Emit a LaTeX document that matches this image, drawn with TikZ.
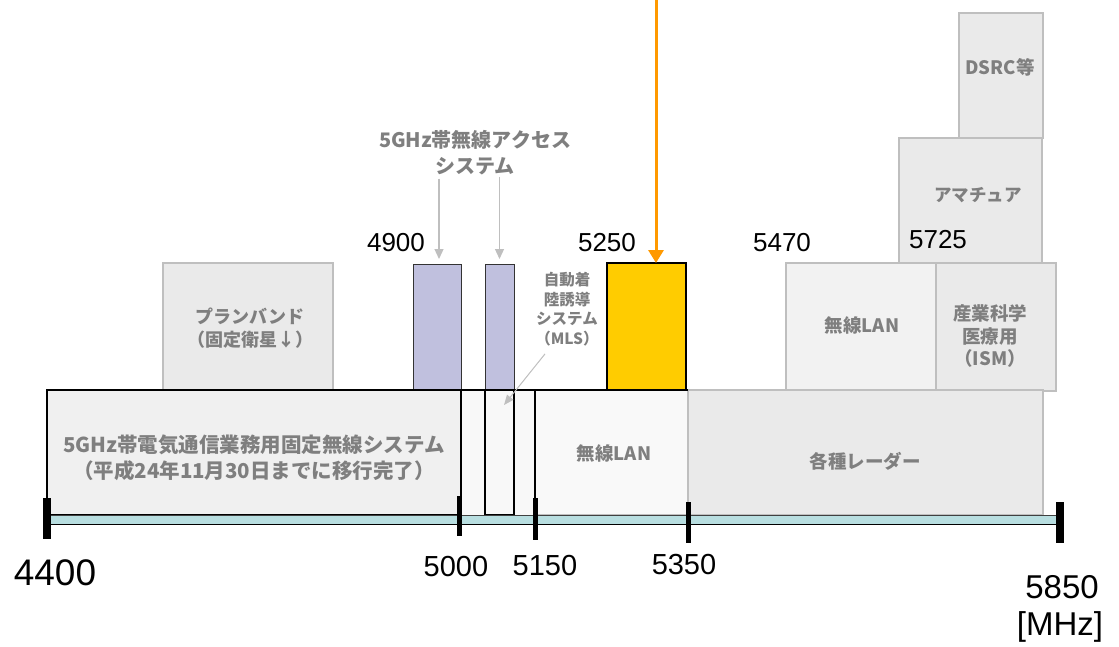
\documentclass[tikz,border=0pt]{standalone}
\usepackage{fontspec}
\setmainfont{Liberation Sans}
\newfontfamily\jp{Noto Sans CJK JP}
\usetikzlibrary{arrows.meta}
\definecolor{lav}{RGB}{192,192,222}
\definecolor{ylw}{RGB}{255,204,0}
\definecolor{org}{RGB}{255,153,0}
\definecolor{axc}{RGB}{184,222,224}
\definecolor{lgray}{RGB}{234,234,234}
\definecolor{edgegray}{RGB}{191,191,191}
\definecolor{txtgray}{RGB}{127,127,127}
\newcommand\mybox[6]{%
  \pgfmathsetmacro\bw{#4-#2}\pgfmathsetmacro\bh{#5-#3}%
  \node[#6, minimum width=\bw pt, minimum height=\bh pt] (#1) at ({(#2+#4)/2},{(#3+#5)/2}) {};}
\newcommand\jfont[2]{\jp\bfseries\fontsize{#1}{#2}\selectfont}
\begin{document}
\begin{tikzpicture}[x=1pt,y=-1pt,
  box/.style={rectangle, inner sep=0pt, outer sep=0pt},
  graybox/.style={box, fill=lgray, draw=edgegray, line width=1.5pt},
  lavbox/.style={box, fill=lav, draw=black!80, line width=1pt},
  jlab/.style={text=txtgray, align=center, inner sep=0pt},
  num/.style={inner sep=0pt, text=black},
  garrow/.style={draw=edgegray, line width=1.2pt, -{Triangle[width=9pt,length=10pt]}},
  oarrow/.style={draw=org, line width=3pt, -{Triangle[width=15pt,length=13pt]}},
  tick/.style={line width=#1, black}]
\useasboundingbox (0,0) rectangle (1119,646);
% upper row boxes
\mybox{plan}{163}{263}{333}{390}{graybox}
\mybox{dsrc}{959}{13}{1043}{138}{graybox}
\mybox{ama}{899}{138}{1042}{263}{graybox}
\mybox{wlantwo}{786}{263}{936}{390}{graybox, fill={rgb,255:red,242;green,242;blue,242}}
\mybox{ism}{936}{263}{1056}{391}{graybox}
\mybox{pone}{413}{264}{461}{390}{lavbox}
\mybox{ptwo}{485}{264}{514}{390}{lavbox}
\mybox{yb}{607}{263}{686}{390}{box, fill=ylw, draw=black, line width=1.8pt}
% lower row boxes
\mybox{radar}{688}{390}{1043}{515}{graybox}
\mybox{wlanone}{535}{390}{688}{515}{box, fill={rgb,255:red,249;green,249;blue,249}, draw=edgegray, line width=1.2pt}
\mybox{gapone}{461}{390}{485}{515}{box, fill={rgb,255:red,248;green,248;blue,248}}
\mybox{gaptwo}{514}{390}{535}{515}{box, fill={rgb,255:red,248;green,248;blue,248}, draw=edgegray, line width=0.8pt}
\mybox{mls}{485}{390}{514}{515}{box, fill={rgb,255:red,248;green,248;blue,248}, draw=black, line width=1.3pt}
\mybox{big}{47}{390}{461}{515}{box, fill={rgb,255:red,240;green,240;blue,240}, draw=black, line width=1.5pt}
\draw[line width=1.5pt] (big.north east) -- (wlanone.north east);
\draw[line width=1.5pt] (wlanone.north west) -- (wlanone.south west);
% axis
\fill[axc] (50,515) rectangle (1057,524);
\draw[line width=1pt, black!75] (50,515) -- (1057,515);
\draw[line width=1.8pt] (50,524.5) -- (1057,524.5);
\draw[tick=7.5pt] (47,498) -- (47,539);
\draw[tick=5pt] (459.5,496) -- (459.5,536);
\draw[tick=5pt] (535,498) -- (535,540);
\draw[tick=5pt] (688.5,502) -- (688.5,543);
\draw[tick=7.5pt] (1060,502) -- (1060,543);
% box texts
\node[jlab, font=\jfont{20.5}{26.5}] (bigt) at (254,458) {5GHz帯電気通信業務用固定無線システム\\（平成24年11月30日までに移行完了）};
\node[jlab, font=\jfont{18}{23.5}] (plant) at (250,328) {プランバンド\\（固定衛星↓）};
\node[jlab, font=\jfont{18.5}{23}] (wlanonet) at (614,453) {無線LAN};
\node[jlab, font=\jfont{18.5}{23}] (radart) at (865,461) {各種レーダー};
\node[jlab, font=\jfont{18.5}{23}] (wlantwot) at (862,325) {無線LAN};
\node[jlab, font=\jfont{18.5}{22.5}] (ismt) at (990,336) {産業科学\\医療用\\（ISM）};
\node[jlab, font=\jfont{17.5}{22}] (amat) at (978,195) {アマチュア};
\node[jlab, font=\jfont{18.5}{22}] (dsrct) at (1000,67) {DSRC等};
\node[jlab, font=\jfont{20}{26}] (acc) at (475,153) {5GHz帯無線アクセス\\システム};
\node[jlab, font=\jfont{15.5}{19.5}] (mlst) at (567,309) {自動着\\陸誘導\\システム\\（MLS）};
% numbers
\node[num, font=\fontsize{37}{40}\selectfont] (n4400) at (55,573) {4400};
\node[num, font=\fontsize{29}{32}\selectfont] (n5000) at (456,567) {5000};
\node[num, font=\fontsize{29}{32}\selectfont] (n5150) at (545,566) {5150};
\node[num, font=\fontsize{29}{32}\selectfont] (n5350) at (684,565) {5350};
\node[num, font=\fontsize{33}{36}\selectfont] (n5850) at (1062,587) {5850};
\node[num, font=\fontsize{33}{36}\selectfont] (mhz) at (1060,627) {[MHz]};
\node[num, font=\fontsize{26}{28}\selectfont] (n4900) at (396,243) {4900};
\node[num, font=\fontsize{26}{28}\selectfont] (n5250) at (607,243) {5250};
\node[num, font=\fontsize{26}{28}\selectfont] (n5470) at (782,243) {5470};
\node[num, font=\fontsize{26}{28}\selectfont] (n5725) at (938,240) {5725};
% connectors
\draw[garrow] ([xshift=2pt]pone.north |- acc.south) ++(0,3) -- ([xshift=2pt,yshift=5pt]pone.north);
\draw[garrow] (ptwo.north |- acc.south) ++(0,1) -- ([yshift=5pt]ptwo.north);
\coordinate (mlsend) at (504,405);
\draw[draw=edgegray, line width=1pt, -{Triangle[width=8pt,length=10pt]}] ([shift={(-22,8)}]mlst.south) -- (mlsend);
\coordinate (otop) at (656,-2);
\draw[oarrow] (otop) -- (otop |- yb.north);
\end{tikzpicture}
\end{document}
